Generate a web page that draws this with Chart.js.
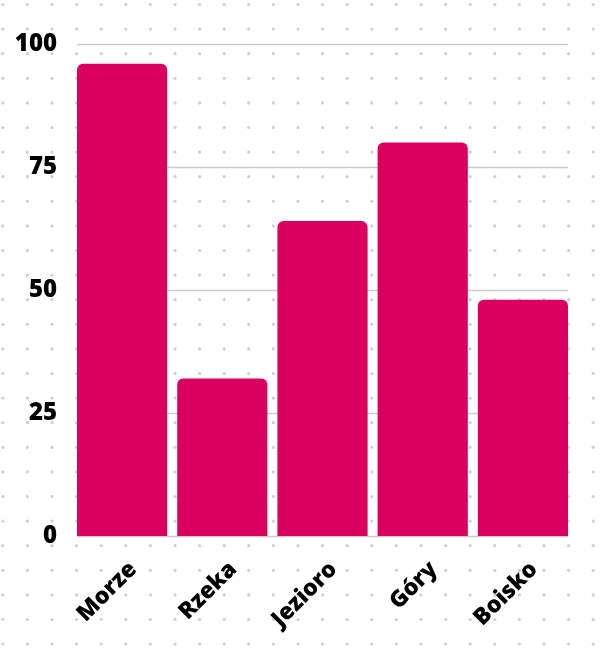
<!DOCTYPE html>
<html lang="pl">

<head>
    <meta charset="UTF-8">
    <script src="https://cdn.jsdelivr.net/npm/chart.js@4"></script>
    <title>Bar chart</title>
    <style>
        body { margin: 0; background: #fff; }
        #wrap { width: 604px; height: 649px; position: relative; }
    </style>
</head>

<body>

    <div id="wrap"><canvas id="myChart"></canvas></div>

    <script>

        const categories = ['Morze', 'Rzeka', 'Jezioro', 'Góry', 'Boisko'];
        const values = [96, 32, 64, 80, 48];
        const yTicks = [0, 25, 50, 75, 100];

        // dotted paper behind everything
        const dotsBg = {
            id: 'dotsBg',
            beforeDraw(chart) {
                const ctx = chart.ctx;
                ctx.save();
                ctx.fillStyle = '#fff';
                ctx.fillRect(0, 0, chart.width, chart.height);
                ctx.fillStyle = '#cfcfcf';
                for (let y = 4.5; y < chart.height; y += 24.6) {
                    for (let x = 2.8; x < chart.width; x += 24.6) {
                        ctx.beginPath();
                        ctx.arc(x, y, 1.6, 0, Math.PI * 2);
                        ctx.fill();
                    }
                }
                ctx.restore();
            }
        };

        // horizontal grid lines only as wide as the bars
        const gridLines = {
            id: 'gridLines',
            beforeDatasetsDraw(chart) {
                const ctx = chart.ctx;
                const meta = chart.getDatasetMeta(0);
                const first = meta.data[0], last = meta.data[meta.data.length - 1];
                const x0 = first.x - first.width / 2;
                const x1 = last.x + last.width / 2;
                const yScale = chart.scales.y;
                ctx.save();
                ctx.strokeStyle = '#cccccc';
                ctx.lineWidth = 1.5;
                yTicks.forEach(v => {
                    const y = Math.round(yScale.getPixelForValue(v)) + 0.5;
                    ctx.beginPath();
                    ctx.moveTo(x0, y);
                    ctx.lineTo(x1, y);
                    ctx.stroke();
                });
                ctx.restore();
            }
        };

        let chart = document.getElementById('myChart').getContext('2d');

        new Chart(chart, {
            type: 'bar',
            data: {
                labels: categories,
                datasets: [{
                    data: values,
                    backgroundColor: '#d9005e',
                    borderRadius: 6,
                    borderSkipped: 'start',
                    barPercentage: 0.9,
                    categoryPercentage: 1
                }]
            },
            options: {
                responsive: true,
                maintainAspectRatio: false,
                animation: false,
                layout: {
                    padding: { top: 44, right: 31, left: 0, bottom: 0 }
                },
                plugins: {
                    legend: { display: false },
                    tooltip: { enabled: false }
                },
                scales: {
                    x: {
                        grid: { display: false, drawTicks: false },
                        border: { display: false },
                        afterFit: s => { s.height = 113; },
                        ticks: {
                            color: '#000',
                            font: { family: 'Open Sans', size: 23, weight: '800' },
                            minRotation: 45,
                            maxRotation: 45,
                            padding: 20,
                            labelOffset: 11,
                            autoSkip: false
                        }
                    },
                    y: {
                        min: 0,
                        max: 100,
                        grid: { display: false, drawTicks: false },
                        border: { display: false },
                        afterFit: s => { s.width = 72; },
                        ticks: {
                            stepSize: 25,
                            color: '#000',
                            padding: 15,
                            font: { family: 'Open Sans', size: 24, weight: '800' }
                        }
                    }
                }
            },
            plugins: [dotsBg, gridLines]
        });

    </script>

</body>

</html>
